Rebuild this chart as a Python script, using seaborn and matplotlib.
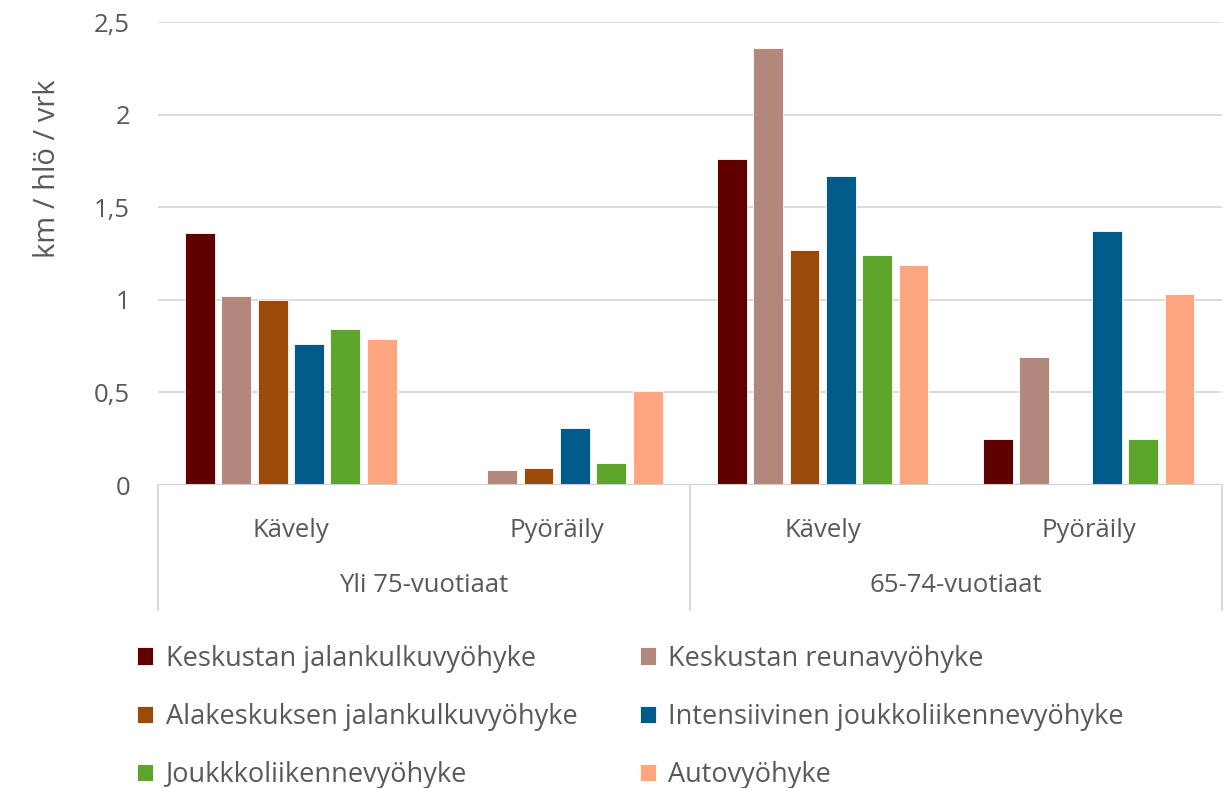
import numpy as np
import pandas as pd
import matplotlib
matplotlib.use('Agg')
import matplotlib.pyplot as plt
import seaborn as sns
from matplotlib.ticker import FuncFormatter

# Data
age_groups = ['Yli 75-vuotiaat', '65-74-vuotiaat']
modes = ['Kävely', 'Pyöräily']
zones = ['Keskustan jalankulkuvyöhyke', 'Keskustan reunavyöhyke',
         'Alakeskuksen jalankulkuvyöhyke', 'Intensiivinen joukkoliikennevyöhyke',
         'Joukkkoliikennevyöhyke', 'Autovyöhyke']
# order: Yli75 Kävely, Yli75 Pyöräily, 65-74 Kävely, 65-74 Pyöräily
keskusta_jalankulku = [1.36, np.nan, 1.76, 0.25]
keskusta_reuna = [1.02, 0.08, 2.36, 0.69]
alakeskus_jalankulku = [1.00, 0.09, 1.27, np.nan]
intensiivinen_jl = [0.76, 0.31, 1.67, 1.37]
joukkoliikenne = [0.84, 0.12, 1.24, 0.25]
auto = [0.79, 0.51, 1.19, 1.03]

colors = ['#600000', '#B3877B', '#9C4A0A', '#005B8A', '#5EA52B', '#FFA57F']

sns.set_style("white")
plt.rcParams['font.family'] = ['Open Sans', 'DejaVu Sans']

cat_keys = [f'{a} | {m}' for a in age_groups for m in modes]
series = [keskusta_jalankulku, keskusta_reuna, alakeskus_jalankulku,
          intensiivinen_jl, joukkoliikenne, auto]
rows = []
for zone, vals in zip(zones, series):
    for key, v in zip(cat_keys, vals):
        rows.append({'kategoria': key, 'vyohyke': zone, 'km': v})
df = pd.DataFrame(rows)

fig = plt.figure(figsize=(12.24, 7.88), dpi=100)
ax = fig.add_axes([0.129, 0.3845, 0.869, 0.5875])

sns.barplot(data=df, x='kategoria', y='km', hue='vyohyke', order=cat_keys,
            hue_order=zones, palette=colors, saturation=1, width=0.82, gap=0.18,
            errorbar=None, edgecolor='white', linewidth=0.6, ax=ax)

gray = '#595959'
fs = 18.5
ax.set_ylim(0, 2.5)
ax.set_xlim(-0.5, 3.5)
ax.set_yticks(np.arange(0, 2.51, 0.5))
ax.yaxis.set_major_formatter(FuncFormatter(lambda v, p: f'{v:g}'.replace('.', ',')))
ax.grid(axis='y', color='#D9D9D9', linewidth=1.3)
ax.set_axisbelow(True)
for s in ax.spines.values():
    s.set_visible(False)
ax.tick_params(axis='y', length=0, pad=20, labelsize=fs, labelcolor=gray)
ax.tick_params(axis='x', length=0, pad=24, labelsize=fs, labelcolor=gray)
ax.set_xticks(range(len(cat_keys)))
ax.set_xticklabels(modes * len(age_groups))
ax.set_xlabel('')
ax.set_ylabel('km / hlö / vrk', fontsize=21, color=gray)
ax.yaxis.set_label_coords(-0.09, 0.683)

# Two-level category axis
trans = ax.get_xaxis_transform()
ax.axhline(0, color='#D0D0D0', linewidth=1.5, zorder=1)
for xb in [-0.5, 1.5, 3.5]:
    ax.plot([xb, xb], [0, -0.27], transform=trans, color='#D9D9D9',
            linewidth=1.5, clip_on=False)
for i, grp in enumerate(age_groups):
    ax.text(2 * i + 0.5, -0.218, grp, transform=trans, ha='center', va='center',
            fontsize=fs, color=gray)

# legend filled row by row like the original
handles, labels = ax.get_legend_handles_labels()
ax.get_legend().remove()
order = [0, 2, 4, 1, 3, 5]
fig.legend([handles[i] for i in order], [labels[i] for i in order], ncol=2,
           frameon=False, fontsize=19.5, loc='upper left',
           bbox_to_anchor=(0.112, 0.182), borderpad=0, borderaxespad=0,
           handlelength=0.6, handleheight=0.6, handletextpad=0.45,
           labelspacing=1.12, columnspacing=2.3, labelcolor=gray)

fig.savefig('out.png', dpi=100)
